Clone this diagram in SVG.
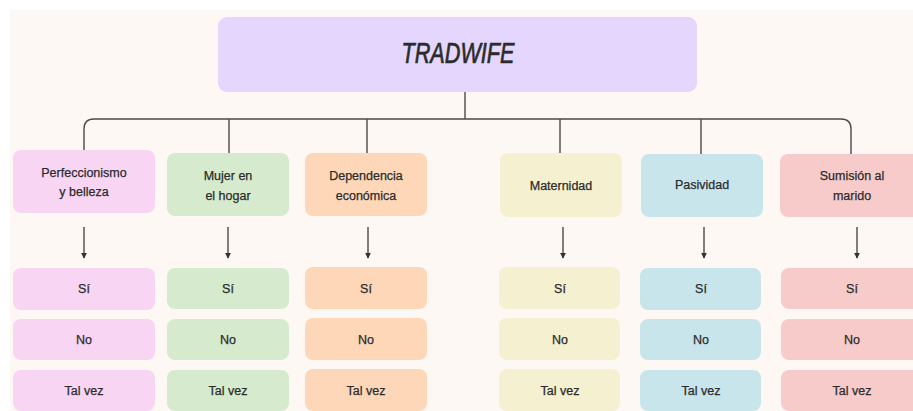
<svg xmlns="http://www.w3.org/2000/svg" width="913" height="411" viewBox="0 0 913 411">
<style>
text{font-family:"Liberation Sans",Arial,sans-serif;fill:#2b2b2b;text-anchor:middle;stroke:#2b2b2b;stroke-width:0.25;}
.lbl{font-size:12.5px;}
.title{font-size:29px;font-style:italic;stroke-width:0.7;}
.ln{fill:none;stroke:#4a4a4a;stroke-width:1.4;}
.pk{fill:#f9d5f4}.gr{fill:#d6ebcd}.pe{fill:#fed7b8}.ye{fill:#f5f0d0}.bl{fill:#c8e5eb}.rd{fill:#f8cbcb}
</style>
<defs>
<marker id="ah" viewBox="0 0 8 8" refX="7" refY="4" markerWidth="6" markerHeight="6" orient="auto" markerUnits="userSpaceOnUse">
<path d="M0,0 L8,4 L0,8 z" fill="#333"/>
</marker>
</defs>
<rect x="0" y="0" width="913" height="411" fill="#ffffff"/>
<rect x="10" y="10" width="903" height="401" fill="#fdf8f4"/>

<g id="connectors">
<path class="ln" d="M465,92 V119"/>
<path class="ln" d="M84,150 V129 Q84,119 94,119 H841 Q851,119 851,129 V154"/>
<path class="ln" d="M229,119 V153"/>
<path class="ln" d="M367,119 V153"/>
<path class="ln" d="M560,119 V153"/>
<path class="ln" d="M701,119 V154"/>
<path class="ln" d="M84,227 V258" marker-end="url(#ah)"/>
<path class="ln" d="M228,227 V258" marker-end="url(#ah)"/>
<path class="ln" d="M368,227 V258" marker-end="url(#ah)"/>
<path class="ln" d="M563,227 V258" marker-end="url(#ah)"/>
<path class="ln" d="M704,227 V258" marker-end="url(#ah)"/>
<path class="ln" d="M857,227 V258" marker-end="url(#ah)"/>
</g>

<g id="title">
<rect x="218" y="17" width="479" height="75" rx="9" fill="#e5d6fd"/>
<text class="title" x="458" y="63" textLength="113" lengthAdjust="spacingAndGlyphs">TRADWIFE</text>
</g>

<g id="n1">
<rect class="pk" x="13" y="150" width="142" height="63" rx="8"/>
<text class="lbl" x="84" y="177">Perfeccionismo</text>
<text class="lbl" x="84" y="196">y belleza</text>
</g>
<g id="n2">
<rect class="gr" x="167" y="153" width="122" height="63" rx="8"/>
<text class="lbl" x="228" y="180">Mujer en</text>
<text class="lbl" x="228" y="200">el hogar</text>
</g>
<g id="n3">
<rect class="pe" x="305" y="153" width="122" height="63" rx="8"/>
<text class="lbl" x="366" y="180">Dependencia</text>
<text class="lbl" x="366" y="200">económica</text>
</g>
<g id="n4">
<rect class="ye" x="500" y="153" width="122" height="64" rx="8"/>
<text class="lbl" x="561" y="190">Maternidad</text>
</g>
<g id="n5">
<rect class="bl" x="641" y="154" width="122" height="63" rx="8"/>
<text class="lbl" x="702" y="189">Pasividad</text>
</g>
<g id="n6">
<rect class="rd" x="780" y="154" width="145" height="63" rx="8"/>
<text class="lbl" x="852" y="180">Sumisión al</text>
<text class="lbl" x="852" y="200">marido</text>
</g>

<g id="n1-si"><rect class="pk" x="13" y="268" width="142" height="42" rx="8"/><text class="lbl" x="84" y="293">Sí</text></g>
<g id="n1-no"><rect class="pk" x="13" y="319" width="142" height="41" rx="8"/><text class="lbl" x="84" y="344">No</text></g>
<g id="n1-tv"><rect class="pk" x="13" y="370" width="142" height="41" rx="8"/><text class="lbl" x="84" y="395">Tal vez</text></g>

<g id="n2-si"><rect class="gr" x="167" y="268" width="122" height="41" rx="8"/><text class="lbl" x="228" y="293">Sí</text></g>
<g id="n2-no"><rect class="gr" x="167" y="319" width="122" height="41" rx="8"/><text class="lbl" x="228" y="344">No</text></g>
<g id="n2-tv"><rect class="gr" x="167" y="370" width="122" height="41" rx="8"/><text class="lbl" x="228" y="395">Tal vez</text></g>

<g id="n3-si"><rect class="pe" x="305" y="267" width="122" height="42" rx="8"/><text class="lbl" x="366" y="293">Sí</text></g>
<g id="n3-no"><rect class="pe" x="305" y="318" width="122" height="42" rx="8"/><text class="lbl" x="366" y="344">No</text></g>
<g id="n3-tv"><rect class="pe" x="305" y="369" width="122" height="42" rx="8"/><text class="lbl" x="366" y="395">Tal vez</text></g>

<g id="n4-si"><rect class="ye" x="499" y="267" width="121" height="42" rx="8"/><text class="lbl" x="560" y="293">Sí</text></g>
<g id="n4-no"><rect class="ye" x="499" y="318" width="121" height="42" rx="8"/><text class="lbl" x="560" y="344">No</text></g>
<g id="n4-tv"><rect class="ye" x="499" y="369" width="121" height="42" rx="8"/><text class="lbl" x="560" y="395">Tal vez</text></g>

<g id="n5-si"><rect class="bl" x="640" y="268" width="121" height="42" rx="8"/><text class="lbl" x="701" y="293">Sí</text></g>
<g id="n5-no"><rect class="bl" x="640" y="319" width="121" height="41" rx="8"/><text class="lbl" x="701" y="344">No</text></g>
<g id="n5-tv"><rect class="bl" x="640" y="370" width="121" height="41" rx="8"/><text class="lbl" x="701" y="395">Tal vez</text></g>

<g id="n6-si"><rect class="rd" x="781" y="268" width="145" height="41" rx="8"/><text class="lbl" x="852" y="293">Sí</text></g>
<g id="n6-no"><rect class="rd" x="781" y="319" width="145" height="41" rx="8"/><text class="lbl" x="852" y="344">No</text></g>
<g id="n6-tv"><rect class="rd" x="781" y="370" width="145" height="41" rx="8"/><text class="lbl" x="852" y="395">Tal vez</text></g>
</svg>
